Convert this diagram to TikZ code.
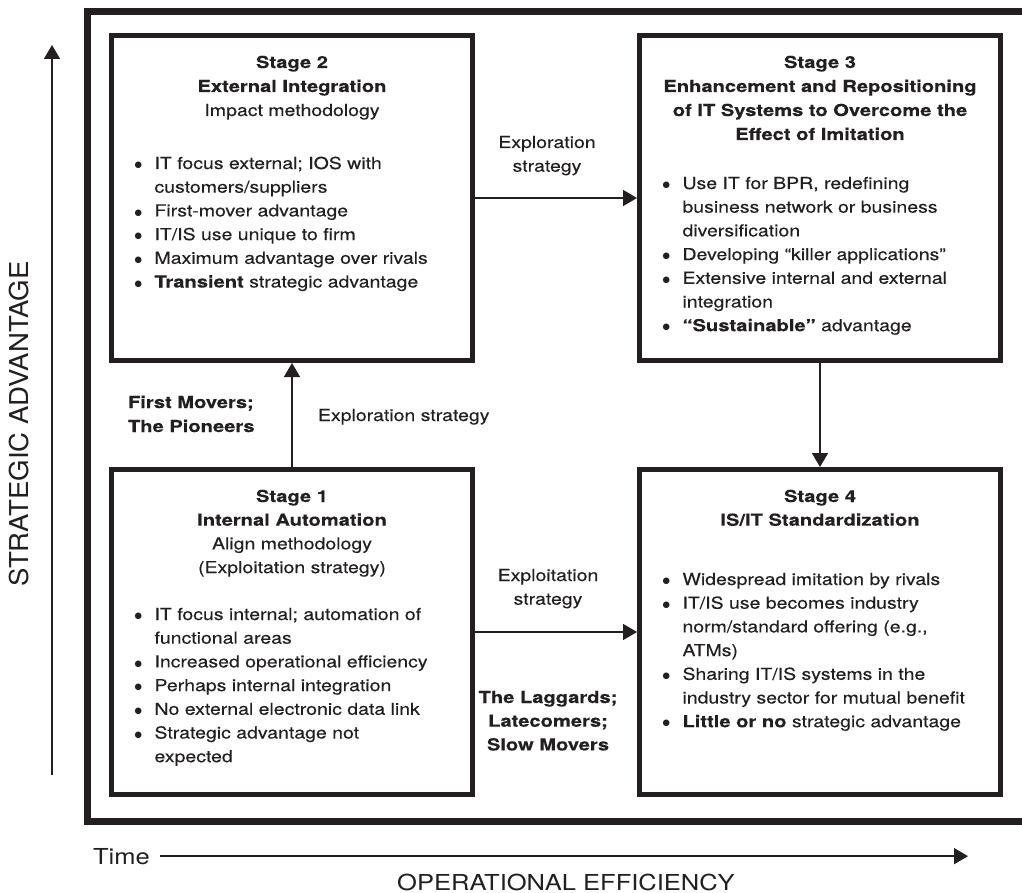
\documentclass[tikz,border=0pt]{standalone}
\usepackage{fontspec}
\setmainfont{TeX Gyre Heros}[FakeStretch=1.18, FakeBold=0.3, BoldFeatures={FakeStretch=1.22}]
\newfontfamily\axisfont{TeX Gyre Heros}[FakeStretch=1.16]
\newfontfamily\sidefont{TeX Gyre Heros}[FakeStretch=1.06]
\newfontfamily\dotfont{DejaVu Sans}
\usetikzlibrary{arrows.meta}
\definecolor{ink}{RGB}{35,31,32}

\newcommand\bodysize{\fontsize{16.5pt}{23.7pt}\selectfont}
\newcommand\bul{\makebox[20pt][l]{\raisebox{1.3pt}{\dotfont\fontsize{8.5pt}{8.5pt}\selectfont ●}}}
\newcommand\cnt{\hspace*{20pt}}

\begin{document}
\begin{tikzpicture}[x=1pt,y=-1pt,
  every node/.style={inner sep=0pt, outer sep=0pt, text=ink},
  stagebox/.style={draw=ink, line width=5pt, minimum width=361pt,
                   minimum height=325pt, outer sep=2.5pt},
  title/.style={anchor=base, font=\bodysize},
  item/.style={anchor=base west, font=\bodysize},
  sidelabel/.style={anchor=base west, font=\bodysize\bfseries},
  midlabel/.style={anchor=base, font=\bodysize},
  conn/.style={draw=ink, line width=1.6pt, -{Triangle[length=14pt, width=16pt]}}
]
\useasboundingbox (0,0) rectangle (1022,893);

% outer frame, open on the right
\draw[ink, line width=7pt] (1040,11.5) -- (87,11.5) -- (87,821.5) -- (1040,821.5);

% the four stages
\node[stagebox] (s2) at (292,198) {};
\node[stagebox] (s3) at (820,198) {};
\node[stagebox] (s1) at (292,632) {};
\node[stagebox] (s4) at (820,632) {};

% Stage 2
\node[title] (s2t1) at (292,68) {\textbf{Stage 2}};
\node[title] (s2t2) at (292,92) {\textbf{External Integration}};
\node[title] (s2t3) at (292,116) {Impact methodology};
\foreach \txt [count=\i from 0] in {
  {\bul IT focus external; IOS with},
  {\cnt customers/suppliers},
  {\bul First-mover advantage},
  {\bul IT/IS use unique to firm},
  {\bul Maximum advantage over rivals},
  {\bul \textbf{Transient} strategic advantage}}
  \node[item] (s2b\i) at (134.5,169+23.7*\i) {\txt};

% Stage 3
\node[title] (s3t1) at (820,68) {\textbf{Stage 3}};
\node[title] (s3t2) at (820,92) {\textbf{Enhancement and Repositioning}};
\node[title] (s3t3) at (820,116) {\textbf{of IT Systems to Overcome the}};
\node[title] (s3t4) at (820,140) {\textbf{Effect of Imitation}};
\foreach \txt [count=\i from 0] in {
  {\bul Use IT for BPR, redefining},
  {\cnt business network or business},
  {\cnt diversification},
  {\bul Developing “killer applications”},
  {\bul Extensive internal and external},
  {\cnt integration},
  {\bul \textbf{“Sustainable”} advantage}}
  \node[item] (s3b\i) at (662.5,189+23.7*\i) {\txt};

% Stage 1
\node[title] (s1t1) at (292,502) {\textbf{Stage 1}};
\node[title] (s1t2) at (292,525.7) {\textbf{Internal Automation}};
\node[title] (s1t3) at (292,549.4) {Align methodology};
\node[title] (s1t4) at (292,573.1) {(Exploitation strategy)};
\foreach \txt [count=\i from 0] in {
  {\bul IT focus internal; automation of},
  {\cnt functional areas},
  {\bul Increased operational efficiency},
  {\bul Perhaps internal integration},
  {\bul No external electronic data link},
  {\bul Strategic advantage not},
  {\cnt expected}}
  \node[item] (s1b\i) at (134.5,620+23.7*\i) {\txt};

% Stage 4
\node[title] (s4t1) at (820,502) {\textbf{Stage 4}};
\node[title] (s4t2) at (820,525.7) {\textbf{IS/IT Standardization}};
\foreach \txt [count=\i from 0] in {
  {\bul Widespread imitation by rivals},
  {\bul IT/IS use becomes industry},
  {\cnt norm/standard offering (e.g.,},
  {\cnt ATMs)},
  {\bul Sharing IT/IS systems in the},
  {\cnt industry sector for mutual benefit},
  {\bul \textbf{Little or no} strategic advantage}}
  \node[item] (s4b\i) at (662.5,585+23.7*\i) {\txt};

% transitions between stages
\draw[conn] (s1.north) -- (s2.south);
\draw[conn] (s2.east) -- (s3.west);
\draw[conn] (s3.south) -- (s4.north);
\draw[conn] (s1.east) -- (s4.west);

% transition labels
\node[sidelabel] (fm1) at (128,408) {First Movers;};
\node[sidelabel] (fm2) at (128,432) {The Pioneers};
\node[anchor=base west, font=\bodysize] (ex0) at (318,421) {Exploration strategy};
\node[midlabel] (ex1) at (547,148) {Exploration};
\node[midlabel] (ex2) at (547,171.7) {strategy};
\node[midlabel] (ep1) at (548,581) {Exploitation};
\node[midlabel] (ep2) at (548,604.7) {strategy};
\node[midlabel, font=\bodysize\bfseries] (lg1) at (548,703) {The Laggards;};
\node[midlabel, font=\bodysize\bfseries] (lg2) at (548,726.7) {Latecomers;};
\node[midlabel, font=\bodysize\bfseries] (lg3) at (548,750.4) {Slow Movers};

% axes
\coordinate (ya) at (52,775);
\coordinate (yb) at (52,45);
\draw[conn] (ya) -- (yb);
\node[rotate=90, font=\sidefont\fontsize{26pt}{26pt}\selectfont] (ylab) at (19,424) {STRATEGIC ADVANTAGE};

\node[anchor=base west, font=\axisfont\fontsize{22pt}{22pt}\selectfont] (time) at (93,864) {Time};
\coordinate (xe) at (968,0);
\draw[conn] ([xshift=10pt]time.east) -- (time.east -| xe);
\node[anchor=base, font=\axisfont\fontsize{22pt}{22pt}\selectfont] (xlab) at (566,890) {OPERATIONAL EFFICIENCY};
\end{tikzpicture}
\end{document}
